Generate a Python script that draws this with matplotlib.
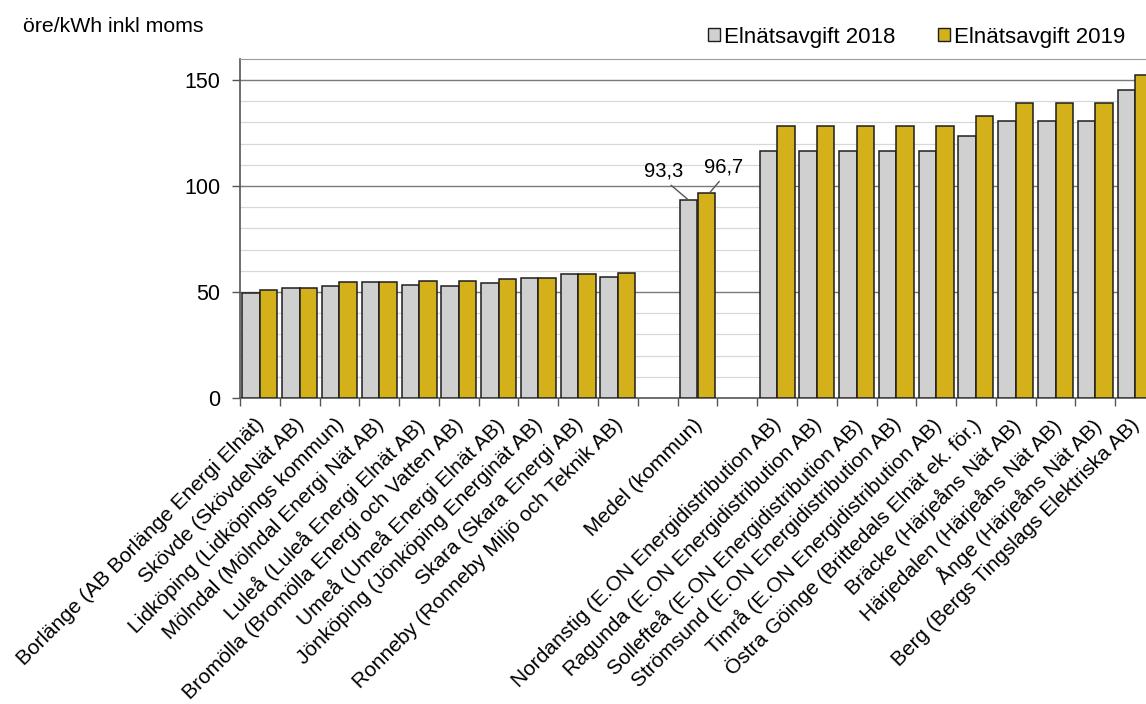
import numpy as np
import matplotlib
matplotlib.use("Agg")
import matplotlib.pyplot as plt
import matplotlib.transforms as mtransforms
from matplotlib.patches import Patch

plt.rcParams['font.family'] = ['Liberation Sans', 'DejaVu Sans']

low_names = [
    "Borlänge (AB Borlänge Energi Elnät)",
    "Skövde (SkövdeNät AB)",
    "Lidköping (Lidköpings kommun)",
    "Mölndal (Mölndal Energi Nät AB)",
    "Luleå (Luleå Energi Elnät AB)",
    "Bromölla (Bromölla Energi och Vatten AB)",
    "Umeå (Umeå Energi Elnät AB)",
    "Jönköping (Jönköping Energinät AB)",
    "Skara (Skara Energi AB)",
    "Ronneby (Ronneby Miljö och Teknik AB)",
]
low_2018 = [49.7, 52.0, 53.0, 54.8, 53.3, 53.0, 54.4, 56.7, 58.7, 57.0]
low_2019 = [51.0, 52.0, 54.5, 54.8, 55.0, 55.3, 55.9, 56.7, 58.7, 59.1]

medel_name = "Medel (kommun)"
medel_2018 = 93.3
medel_2019 = 96.7

high_names = [
    "Nordanstig (E.ON Energidistribution AB)",
    "Ragunda (E.ON Energidistribution AB)",
    "Sollefteå (E.ON Energidistribution AB)",
    "Strömsund (E.ON Energidistribution AB)",
    "Timrå (E.ON Energidistribution AB)",
    "Östra Göinge (Brittedals Elnät ek. för.)",
    "Bräcke (Härjeåns Nät AB)",
    "Härjedalen (Härjeåns Nät AB)",
    "Ånge (Härjeåns Nät AB)",
    "Berg (Bergs Tingslags Elektriska AB)",
]
high_2018 = [116.5, 116.5, 116.5, 116.5, 116.5, 123.6, 130.8, 130.8, 130.8, 145.4]
high_2019 = [128.1, 128.1, 128.1, 128.1, 128.1, 133.0, 139.3, 139.3, 139.3, 152.2]

series_labels = ["Elnätsavgift 2018", "Elnätsavgift 2019"]
ylabel = "öre/kWh inkl moms"

# assemble categories with blank gap slots
categories = low_names + [""] + [medel_name] + [""] + high_names
v2018 = low_2018 + [np.nan, medel_2018, np.nan] + high_2018
v2019 = low_2019 + [np.nan, medel_2019, np.nan] + high_2019

gray = "#d0d0d0"
yellow = "#d4b11a"
edge = "#1e1e1e"

fig = plt.figure(figsize=(11.46, 7.04), dpi=100)
ax = fig.add_axes([240/1146, 1-398/704, 915/1146, (398-58.8)/704])

n = len(categories)
x = np.arange(n)
w = 0.44
ax.bar(x - w/2, v2018, width=w, color=gray, edgecolor=edge, linewidth=1.1, zorder=3)
ax.bar(x + w/2, v2019, width=w, color=yellow, edgecolor=edge, linewidth=1.1, zorder=3)

ax.set_xlim(-0.5, n - 0.5)
ax.set_ylim(0, 160)

# gridlines
for yv in range(10, 160, 10):
    if yv % 50 == 0:
        ax.axhline(yv, color="#7a7a7a", lw=1.0, zorder=1)
    else:
        ax.axhline(yv, color="#d8d8d8", lw=0.9, zorder=1)

ax.set_yticks([0, 50, 100, 150])
ax.tick_params(axis='y', labelsize=15.5, length=6, width=1, color="#555555", pad=8, direction='out')

ax.set_xticks(x)
ax.set_xticklabels(categories, rotation=45, ha='right', va='top', rotation_mode='anchor', fontsize=15)
ax.tick_params(axis='x', which='major', length=0, pad=10)
shift = mtransforms.ScaledTranslation(-5/100, -3/100, fig.dpi_scale_trans)
for lbl in ax.get_xticklabels():
    lbl.set_transform(lbl.get_transform() + shift)
ax.set_xticks(np.arange(-0.5, n, 1.0), minor=True)
ax.tick_params(axis='x', which='minor', length=6, width=1, color="#555555", direction='out')

for side in ['left', 'bottom']:
    ax.spines[side].set_color("#555555")
    ax.spines[side].set_linewidth(1.2)
ax.spines['top'].set_color("#9a9a9a")
ax.spines['right'].set_color("#9a9a9a")

# medel annotations
mi = categories.index(medel_name)
ax.annotate("93,3", xy=(mi - w/2, medel_2018), xytext=(-25, 29), textcoords='offset pixels',
            ha='center', va='center', fontsize=14.5,
            arrowprops=dict(arrowstyle='-', color="#555555", lw=1.0, shrinkA=2, shrinkB=0, relpos=(0.55, 0.0)))
ax.annotate("96,7", xy=(mi + w/2 + 0.08, medel_2019), xytext=(14, 26), textcoords='offset pixels',
            ha='center', va='center', fontsize=14.5,
            arrowprops=dict(arrowstyle='-', color="#555555", lw=1.0, shrinkA=2, shrinkB=0, relpos=(0.5, 0.0)))

fig.text(23/1146, 1-27/704, ylabel, fontsize=15.3, ha='left', va='center')

handles = [Patch(facecolor=gray, edgecolor=edge, linewidth=1.0),
           Patch(facecolor=yellow, edgecolor=edge, linewidth=1.0)]
fig.legend(handles, series_labels, loc='center left', bbox_to_anchor=(708/1146, 1-37/704),
           ncol=2, frameon=False, fontsize=16, handlelength=0.55, handleheight=0.55,
           handletextpad=0.18, columnspacing=1.9, borderpad=0, borderaxespad=0)

fig.savefig("out.png", dpi=100)
